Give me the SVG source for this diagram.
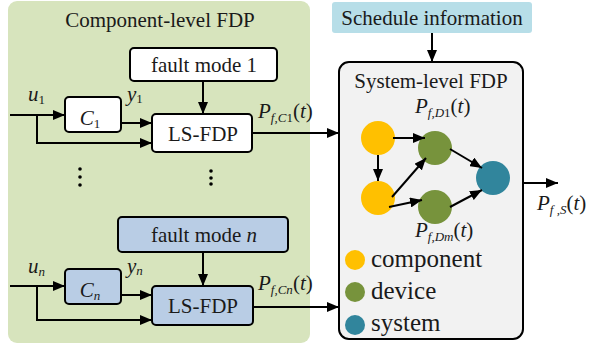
<svg xmlns="http://www.w3.org/2000/svg" width="600" height="345" viewBox="0 0 600 345">
<defs>
<marker id="arr" viewBox="0 0 12 10" refX="12" refY="5" markerWidth="12" markerHeight="10" markerUnits="userSpaceOnUse" orient="auto">
<path d="M0,0 L12,5 L0,10 Z" fill="#000"/>
</marker>
<style>
.box{stroke:#000;stroke-width:2}
.t{font-size:21px;fill:#1a1a1a}
.leg{font-size:25px;fill:#1a1a1a}
.i{font-style:italic}
.s{font-size:13px}
.w{fill:#fff}
.b{fill:#B9CDE5}
.c{stroke:#000;stroke-width:2;fill:none;marker-end:url(#arr)}
</style>
</defs>
<rect id="component-panel" x="8" y="1" width="302" height="342" rx="9" fill="#D7E4BD"/>
<text class="t" font-family="Liberation Serif" x="160" y="27" text-anchor="middle">Component-level FDP</text>
<g id="fault1"><rect class="box w" x="130" y="48" width="147" height="33" rx="4"/><text class="t" font-family="Liberation Serif" x="204" y="72" text-anchor="middle">fault mode 1</text></g>
<g id="c1"><rect class="box w" x="65" y="97" width="56" height="35" rx="4"/><text class="t" font-family="Liberation Serif" x="90" y="125" text-anchor="middle"><tspan class="i">C</tspan><tspan class="s" dy="3">1</tspan></text></g>
<g id="lsfdp1"><rect class="box w" x="152" y="114" width="100" height="38" rx="4"/><text class="t" font-family="Liberation Serif" x="203" y="141" text-anchor="middle">LS-FDP</text></g>
<g id="faultn"><rect class="box b" x="118" y="217" width="170" height="35" rx="4"/><text class="t" font-family="Liberation Serif" x="204" y="242" text-anchor="middle">fault mode <tspan class="i">n</tspan></text></g>
<g id="cn"><rect class="box b" x="65" y="269" width="56" height="35" rx="4"/><text class="t" font-family="Liberation Serif" x="90" y="297" text-anchor="middle"><tspan class="i">C</tspan><tspan class="s i" dy="3">n</tspan></text></g>
<g id="lsfdpn"><rect class="box b" x="152" y="286" width="101" height="39" rx="4"/><text class="t" font-family="Liberation Serif" x="203" y="313" text-anchor="middle">LS-FDP</text></g>
<g id="dots" fill="#000">
<circle cx="80" cy="169" r="1.8"/><circle cx="80" cy="177" r="1.8"/><circle cx="80" cy="185" r="1.8"/>
<circle cx="211" cy="171" r="1.8"/><circle cx="211" cy="178" r="1.8"/><circle cx="211" cy="184" r="1.8"/>
</g>
<g id="schedule"><rect x="332" y="2" width="200" height="31" rx="3" fill="#B7DEE8"/><text class="t" font-family="Liberation Serif" x="432" y="25" text-anchor="middle">Schedule information</text></g>
<g id="system"><rect class="box" x="339" y="62" width="184" height="277" rx="10" fill="#F2F2F2"/><text class="t" font-family="Liberation Serif" x="431" y="88" text-anchor="middle">System-level FDP</text></g>
<g id="comp1"><circle cx="378" cy="138" r="17" fill="#FFC000"/></g>
<g id="comp2"><circle cx="378" cy="198" r="17" fill="#FFC000"/></g>
<g id="dev1"><circle cx="435" cy="148" r="17" fill="#77933C"/></g>
<g id="dev2"><circle cx="435" cy="207" r="17" fill="#77933C"/></g>
<g id="sys"><circle cx="493" cy="178" r="17" fill="#31859C"/></g>
<g id="legend">
<circle cx="355" cy="260" r="10" fill="#FFC000"/><text class="leg" x="371" y="267">component</text>
<circle cx="355" cy="292" r="10" fill="#77933C"/><text class="leg" x="371" y="299">device</text>
<circle cx="355" cy="325" r="10" fill="#31859C"/><text class="leg" x="371" y="331">system</text>
</g>
<g id="labels">
<text class="t" font-family="Liberation Serif" x="28" y="101"><tspan class="i">u</tspan><tspan class="s" dy="3">1</tspan></text>
<text class="t" font-family="Liberation Serif" x="127" y="101"><tspan class="i">y</tspan><tspan class="s" dy="2">1</tspan></text>
<text class="t" font-family="Liberation Serif" x="258" y="118"><tspan class="i">P</tspan><tspan class="s i" dy="4">f,C</tspan><tspan class="s">1</tspan><tspan dy="-4">(</tspan><tspan class="i">t</tspan>)</text>
<text class="t" font-family="Liberation Serif" x="28" y="273"><tspan class="i">u</tspan><tspan class="s i" dy="3">n</tspan></text>
<text class="t" font-family="Liberation Serif" x="127" y="273"><tspan class="i">y</tspan><tspan class="s i" dy="2">n</tspan></text>
<text class="t" font-family="Liberation Serif" x="258" y="290"><tspan class="i">P</tspan><tspan class="s i" dy="4">f,Cn</tspan><tspan dy="-4">(</tspan><tspan class="i">t</tspan>)</text>
<text class="t" font-family="Liberation Serif" x="415" y="113"><tspan class="i">P</tspan><tspan class="s i" dy="4">f,D</tspan><tspan class="s">1</tspan><tspan dy="-4">(</tspan><tspan class="i">t</tspan>)</text>
<text class="t" font-family="Liberation Serif" x="415" y="237"><tspan class="i">P</tspan><tspan class="s i" dy="4">f,Dm</tspan><tspan dy="-4">(</tspan><tspan class="i">t</tspan>)</text>
<text class="t" font-family="Liberation Serif" x="537" y="210"><tspan class="i">P</tspan><tspan class="s i" dy="4">f ,S</tspan><tspan dy="-4">(</tspan><tspan class="i">t</tspan>)</text>
</g>
<g id="connectors">
<path class="c" d="M10,115 H65"/>
<path class="c" d="M37,115 V143 H152"/>
<path class="c" d="M121,123 H152"/>
<path class="c" d="M203,81 V114"/>
<path class="c" d="M252,133 H339"/>
<path class="c" d="M10,286 H65"/>
<path class="c" d="M37,286 V320 H152"/>
<path class="c" d="M121,295 H152"/>
<path class="c" d="M203,252 V286"/>
<path class="c" d="M253,307 H339"/>
<path class="c" d="M432,33 V62"/>
<path class="c" d="M523,183 H558"/>
<path class="c" d="M393,138 H425"/>
<path class="c" d="M378,155 V181"/>
<path class="c" d="M392,197 L426,158"/>
<path class="c" d="M389,207 L422,200"/>
<path class="c" d="M450,149 L482,168"/>
<path class="c" d="M450,207 L482,190"/>
</g>
</svg>
